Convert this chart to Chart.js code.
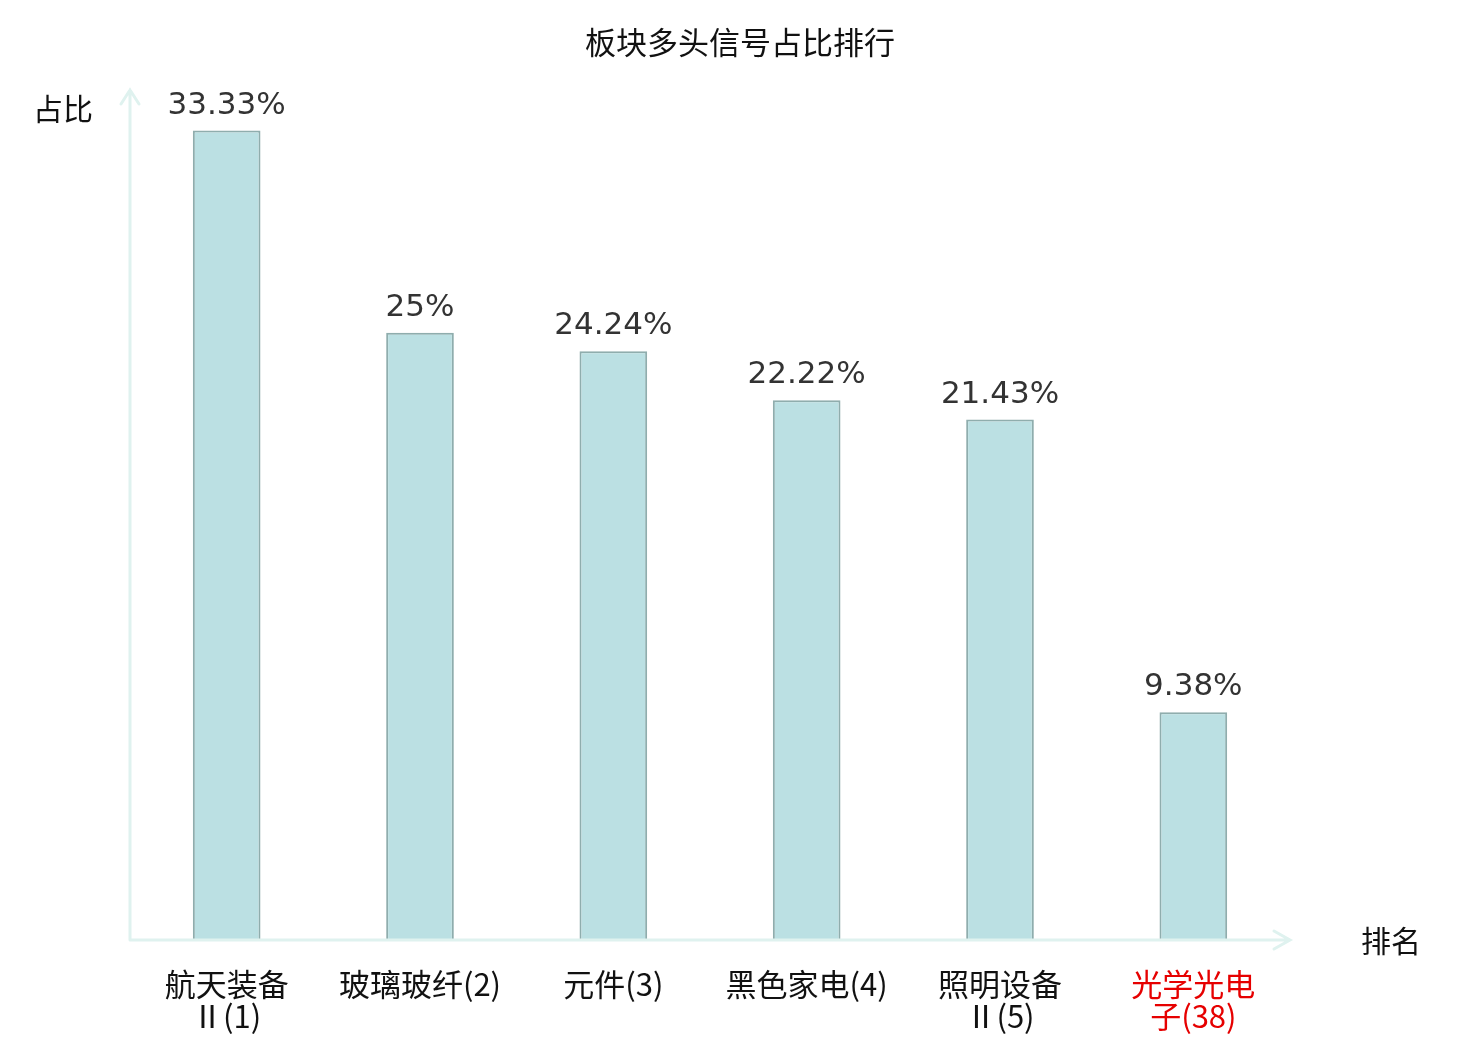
<!DOCTYPE html>
<html>
<head>
<meta charset="utf-8">
<script src="https://cdn.jsdelivr.net/npm/chart.js@4"></script>
<style>
  html, body { margin: 0; padding: 0; background: #fff; }
  #wrap { width: 1480px; height: 1040px; }
</style>
</head>
<body>
<div id="wrap"><canvas id="bar-chart"></canvas></div>
<script>
const categories = [["航天装备", "Ⅱ(1)"], "玻璃玻纤(2)", "元件(3)", "黑色家电(4)", ["照明设备", "Ⅱ(5)"], ["光学光电", "子(38)"]];
const values = [33.33, 25, 24.24, 22.22, 21.43, 9.38];
const highlightIndex = 5;

const axisColor = '#dff2ef';
const cjk = '"Noto Sans CJK SC", "DejaVu Sans", sans-serif';
const tickFont = '"DejaVu Sans ExtraLight", "Noto Sans CJK SC", sans-serif';

// axes with arrows, title, axis names and value labels
const decor = {
  id: 'decor',
  afterDraw(chart) {
    const c = chart.ctx;
    const a = chart.chartArea;
    c.save();
    c.strokeStyle = axisColor;
    c.lineWidth = 3;
    c.lineCap = 'round';
    c.beginPath();
    c.moveTo(a.left, a.bottom);
    c.lineTo(a.left, a.top);
    c.moveTo(a.left - 9, a.top + 14);
    c.lineTo(a.left, a.top);
    c.lineTo(a.left + 9, a.top + 14);
    c.moveTo(a.left, a.bottom);
    c.lineTo(a.right, a.bottom);
    c.moveTo(a.right - 16, a.bottom - 9);
    c.lineTo(a.right, a.bottom);
    c.lineTo(a.right - 16, a.bottom + 9);
    c.stroke();

    c.fillStyle = '#111';
    c.textAlign = 'center';
    c.textBaseline = 'middle';
    c.font = '31px ' + cjk;
    c.fillText('板块多头信号占比排行', chart.width / 2, 42);
    c.font = '30px ' + cjk;
    c.fillText('占比', 63, 109);
    c.fillText('排名', 1391, 941);

    c.fillStyle = '#333';
    c.font = '31px "DejaVu Sans", sans-serif';
    c.textBaseline = 'alphabetic';
    chart.getDatasetMeta(0).data.forEach((bar, i) => {
      c.fillText(values[i] + '%', bar.x, bar.y - 17);
    });
    c.restore();
  }
};

new Chart(document.getElementById('bar-chart'), {
  type: 'bar',
  data: {
    labels: categories,
    datasets: [{
      data: values,
      backgroundColor: '#bbe0e3',
      borderColor: '#8fadad',
      borderWidth: 2,
      categoryPercentage: 1,
      barPercentage: 0.35
    }]
  },
  options: {
    responsive: true,
    maintainAspectRatio: false,
    animation: false,
    layout: { padding: { left: 130, right: 190, top: 90, bottom: 0 } },
    plugins: {
      legend: { display: false },
      tooltip: { enabled: false }
    },
    scales: {
      x: {
        grid: { display: false },
        border: { display: false },
        afterFit: s => { s.height = 100; },
        ticks: {
          padding: 20,
          maxRotation: 0,
          autoSkip: false,
          color: ctx => ctx.index === highlightIndex ? '#e60000' : '#111',
          font: { size: 31, family: tickFont, lineHeight: 1.03 }
        }
      },
      y: {
        display: false,
        min: 0,
        max: 35
      }
    }
  },
  plugins: [decor]
});
</script>
</body>
</html>
